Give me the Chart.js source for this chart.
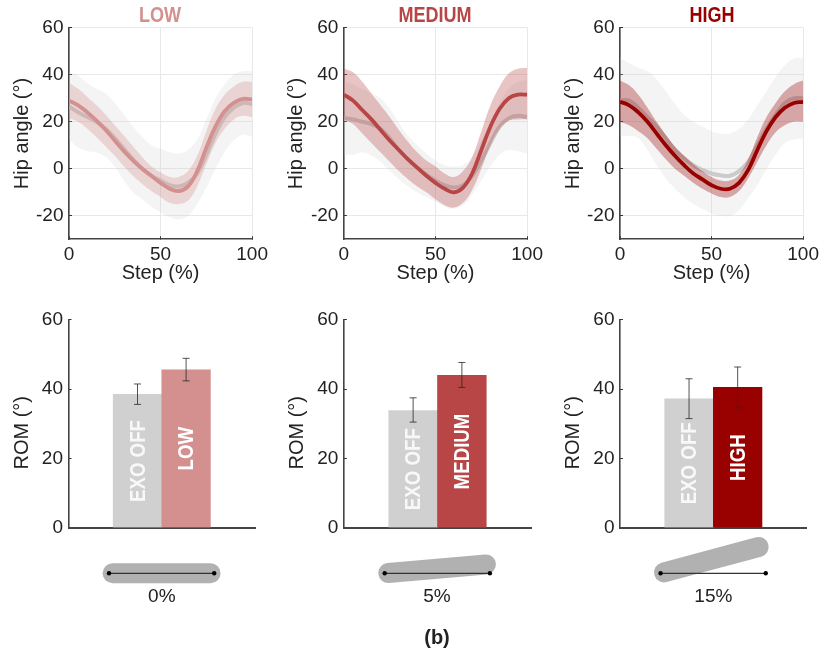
<!DOCTYPE html>
<html>
<head>
<meta charset="utf-8">
<script src="https://cdn.jsdelivr.net/npm/chart.js@4"></script>
<style>
    html, body { margin: 0; padding: 0; background: #fff; }
    body { position: relative; width: 836px; height: 656px; overflow: hidden; font-family: "Liberation Sans", Arial, sans-serif; color: #222; }
    canvas { position: absolute; display: block; }
    .txt { position: absolute; transform: translate(-50%, -50%); white-space: nowrap; }
    .panel-title { font: bold 22px "Liberation Sans", sans-serif; transform: translate(-50%, -50%) scaleX(0.82); }
    .incline { font-size: 19px; }
    .caption { font-size: 20px; font-weight: bold; }
</style>
</head>
<body>
<script>
// data
const stepPct = [0, 5, 10, 15, 20, 25, 30, 35, 40, 45, 50, 55, 60, 65, 70, 75, 80, 85, 90, 95, 100];
const hipTicks = [-20, 0, 20, 40, 60];
const stepTicks = [0, 50, 100];
const romTicks = [0, 20, 40, 60];

const levels = ['LOW', 'MEDIUM', 'HIGH'];
const inclines = [0, 5, 15];

// exo on
const lowMean = [29, 27, 24, 20.5, 16.5, 12, 7.5, 3.5, 0, -3, -6, -8.5, -9.5, -7.5, -1, 9, 18, 24.5, 28, 29.7, 29.5];
const lowUpper = [36.5, 34, 30.5, 27, 23, 18.5, 14, 9.5, 5, 1, -1.5, -3.5, -3.5, -1, 5.5, 16, 25.5, 31.5, 35, 37, 37];
const lowLower = [21.5, 20, 17, 13.5, 9.5, 5.5, 1, -3, -6.5, -9.5, -12, -14.5, -15, -13.5, -7.5, 2, 11, 17, 21, 22.5, 22];
const medMean = [31.5, 29, 25, 21, 16.5, 12, 8, 4, 0.5, -3, -6, -8.5, -10, -8, -2, 8, 18, 25.5, 30, 31.5, 31.5];
const medUpper = [42.5, 41, 37, 32, 27, 22, 16.5, 11.5, 7, 3.5, 1, -2, -3.5, -1, 5, 16, 27, 35, 40.5, 42.5, 43];
const medLower = [21, 19, 15, 11, 7, 3, -1, -4.5, -7.5, -10, -13, -15.5, -16.5, -14.5, -9, 0, 10, 17, 20.5, 21, 21];
const highMean = [28.5, 27, 24, 20, 15, 10, 5.5, 1.5, -2, -4.5, -7, -8.5, -8.5, -6, -0.5, 8, 16, 22, 26, 28, 28.5];
const highUpper = [37.5, 35.5, 31.5, 26, 20, 14.5, 9.5, 5.5, 2, -1, -3.5, -5, -5, -2.5, 4, 13.5, 22, 28, 33, 36, 37.5];
const highLower = [20, 18.5, 16, 13, 8.5, 4, 0, -3, -6, -8.5, -10.5, -12, -12, -9.5, -4, 3, 10, 15.5, 18.5, 20, 20];

// exo off
const lowOffMean = [26.5, 24, 22, 20, 17, 13, 8.5, 4, 0, -3, -5, -7, -7.5, -6, -2, 6, 15, 22, 26, 28, 27.5];
const lowOffUpper = [41, 39.5, 36.5, 34, 32, 28, 23, 18, 13.5, 10, 8.5, 7, 6.5, 8, 12.5, 21, 30, 36, 40, 41.5, 41.5];
const lowOffLower = [12.5, 9, 7.5, 7, 5, 1, -5, -10, -13, -16, -18.5, -20.5, -21.5, -20, -15, -8, 0, 7, 12, 14.5, 13.5];
const medOffMean = [21.5, 21, 20, 19, 17, 13, 8, 4, 0.5, -2.5, -5, -7, -8, -7, -3, 3.5, 11, 18, 21.5, 22.5, 22];
const medOffUpper = [37, 36, 34, 32, 30, 25.5, 19.5, 14, 10, 6.5, 3.5, 1.5, 1, 1.5, 5, 12, 20, 28, 34, 37, 38];
const medOffLower = [6, 6, 7, 5.5, 3, -1, -4.5, -7.5, -10, -12, -14, -16, -17, -15.5, -11, -5, 1, 6, 8, 7.5, 6.5];
const highOffMean = [29, 29, 26, 22, 18, 13, 8, 4.5, 1.5, -0.5, -2, -2.8, -3, -1, 3, 10, 17, 23, 28, 30, 30];
const highOffUpper = [47, 45, 43, 41.5, 38, 33, 27.5, 23, 20, 18, 16, 15, 15, 17, 21, 27, 33, 39, 44, 47, 47];
const highOffLower = [13.5, 14, 13, 8, 1.5, -4, -8.5, -12, -15, -17, -19, -20, -20, -17.5, -12.5, -7, 0, 6, 11, 12.5, 13];

// range of motion
const romOff = [38.5, 33.8, 37.2];
const romOn = [45.6, 44, 40.5];
const romOffHigh = [41.5, 37.5, 43];
const romOffLow = [35.6, 30.5, 31.5];
const romOnHigh = [48.9, 47.7, 46.4];
const romOnLow = [42.4, 40.5, 34.6];
const offLabel = 'EXO OFF';

const onCurves = [[lowMean, lowUpper, lowLower], [medMean, medUpper, medLower], [highMean, highUpper, highLower]];
const offCurves = [[lowOffMean, lowOffUpper, lowOffLower], [medOffMean, medOffUpper, medOffLower], [highOffMean, highOffUpper, highOffLower]];

// styles
const colors = ['#d48f8f', '#b94646', '#990000'];
const bandColors = ['rgba(212,143,143,0.33)', 'rgba(185,70,70,0.32)', 'rgba(153,0,0,0.32)'];
const offColor = '#d0d0d0';
const axisColor = '#444444';
const textColor = '#222222';
const sansFont = '"Liberation Sans", Arial, sans-serif';

// layout
const hipLeft = [69, 343.4, 620];
const hipWidth = [184.4, 185.5, 185.3];
const romLeft = [68.5, 343.4, 620];
const romWidth = [186.6, 187.2, 186.7];
const canvasLeft = [0, 274.5, 551];

function addText(cls, text, x, y, color) {
    const el = document.createElement('div');
    el.className = 'txt ' + cls;
    el.textContent = text;
    el.style.left = x + 'px';
    el.style.top = y + 'px';
    if (color) el.style.color = color;
    document.body.appendChild(el);
}

function addCanvas(left, top, width, height) {
    const c = document.createElement('canvas');
    c.width = width;
    c.height = height;
    c.style.left = left + 'px';
    c.style.top = top + 'px';
    c.style.width = width + 'px';
    c.style.height = height + 'px';
    document.body.appendChild(c);
    return c;
}

const toPoints = (values) => values.map((v, i) => ({ x: stepPct[i], y: v }));

// chart.js paints dataset 0 last, so the mean comes first and exo on comes before exo off
function bandDatasets(curves, lineColor, lineWidth, bandColor) {
    const base = { pointRadius: 0, tension: 0.4 };
    return [
        { ...base, data: toPoints(curves[0]), borderWidth: lineWidth, borderColor: lineColor, fill: false },
        { ...base, data: toPoints(curves[1]), borderWidth: 0, fill: '+1', backgroundColor: bandColor },
        { ...base, data: toPoints(curves[2]), borderWidth: 0, fill: false }
    ];
}

function axisBase(ticks, padding) {
    return {
        type: 'linear',
        afterBuildTicks: (scale) => { scale.ticks = ticks.map((v) => ({ value: v })); },
        border: { color: axisColor, width: 1.6 },
        ticks: { color: textColor, font: { family: sansFont, size: 19 }, padding: padding, maxRotation: 0, autoSkip: false }
    };
}

function hipChart(i) {
    const left = canvasLeft[i];
    const w = 275, h = 285;
    const canvas = addCanvas(left, 0, w, h);
    new Chart(canvas, {
        type: 'line',
        data: {
            datasets: [
                ...bandDatasets(onCurves[i], colors[i], 3.8, bandColors[i]),
                ...bandDatasets(offCurves[i], 'rgba(190,190,190,0.75)', 4, 'rgba(205,205,205,0.22)')
            ]
        },
        options: {
            responsive: false,
            animation: false,
            layout: { padding: { left: hipLeft[i] - left - 69, top: 27.7, right: w - (hipLeft[i] - left) - hipWidth[i], bottom: 0 } },
            plugins: { legend: { display: false }, tooltip: { enabled: false } },
            scales: {
                x: {
                    ...axisBase(stepTicks, 7),
                    min: 0,
                    max: 100,
                    afterFit: (scale) => { scale.height = 45.7; },
                    grid: { color: '#e8e8e8', tickColor: '#333333', tickLength: -3 },
                    title: { display: true, text: 'Step (%)', color: textColor, font: { family: sansFont, size: 20 }, padding: 0 }
                },
                y: {
                    ...axisBase(hipTicks, 8.5),
                    min: -30,
                    max: 60,
                    afterFit: (scale) => { scale.width = 69; },
                    grid: { color: '#e8e8e8', tickColor: '#333333', tickLength: -3 },
                    title: { display: true, text: 'Hip angle (°)', color: textColor, font: { family: sansFont, size: 20 }, padding: { top: 10, bottom: 0 } }
                }
            }
        }
    });
}

// error bars, labels inside the bars, the y title and the incline sketch under the axis
function romPlugin(i) {
    const errors = [[romOffLow[i], romOffHigh[i]], [romOnLow[i], romOnHigh[i]]];
    const labels = [offLabel, levels[i]];
    const labelColors = ['rgba(255,255,255,0.85)', '#ffffff'];
    return {
        id: 'romExtras',
        afterDatasetsDraw(chart) {
            const ctx = chart.ctx;
            const yScale = chart.scales.y;
            const area = chart.chartArea;
            const meta = chart.getDatasetMeta(0);
            meta.data.forEach((bar, k) => {
                const yLow = yScale.getPixelForValue(errors[k][0]);
                const yHigh = yScale.getPixelForValue(errors[k][1]);
                ctx.save();
                ctx.strokeStyle = 'rgba(40,40,40,0.8)';
                ctx.lineWidth = 1;
                ctx.beginPath();
                ctx.moveTo(bar.x, yLow); ctx.lineTo(bar.x, yHigh);
                ctx.moveTo(bar.x - 3.5, yLow); ctx.lineTo(bar.x + 3.5, yLow);
                ctx.moveTo(bar.x - 3.5, yHigh); ctx.lineTo(bar.x + 3.5, yHigh);
                ctx.stroke();
                ctx.restore();

                ctx.save();
                ctx.translate(bar.x, (bar.y + yScale.getPixelForValue(0)) / 2);
                ctx.rotate(-Math.PI / 2);
                ctx.scale(0.85, 1);
                ctx.fillStyle = labelColors[k];
                ctx.font = 'bold 22px ' + sansFont;
                ctx.textAlign = 'center';
                ctx.textBaseline = 'middle';
                ctx.fillText(labels[k], 0, 1);
                ctx.restore();
            });

            ctx.save();
            ctx.translate(area.left - 46.5, (area.top + area.bottom) / 2 + 9);
            ctx.rotate(-Math.PI / 2);
            ctx.fillStyle = textColor;
            ctx.font = '20px ' + sansFont;
            ctx.textAlign = 'center';
            ctx.textBaseline = 'middle';
            ctx.fillText('ROM (°)', 0, 0);
            ctx.restore();

            const cx = (area.left + area.right) / 2;
            const px = cx - 52.8, py = area.bottom + 45.6;
            const angle = inclines[i] * Math.PI / 180;
            const cos = Math.cos(angle), sin = Math.sin(angle);
            ctx.save();
            ctx.strokeStyle = '#b1b1b1';
            ctx.lineWidth = 20;
            ctx.lineCap = 'round';
            ctx.beginPath();
            ctx.moveTo(px + 3.6 * cos, py - 3.6 * sin);
            ctx.lineTo(px + 101.6 * cos, py - 101.6 * sin);
            ctx.stroke();
            ctx.strokeStyle = '#333333';
            ctx.lineWidth = 1.2;
            ctx.lineCap = 'butt';
            ctx.beginPath();
            ctx.moveTo(px, py); ctx.lineTo(px + 105.2, py);
            ctx.stroke();
            ctx.fillStyle = '#000000';
            [px, px + 105.2].forEach((x) => {
                ctx.beginPath();
                ctx.arc(x, py, 2.2, 0, Math.PI * 2);
                ctx.fill();
            });
            ctx.restore();
        }
    };
}

function romChart(i) {
    const left = canvasLeft[i];
    const w = 275, h = 300;
    const canvas = addCanvas(left, 300, w, h);
    new Chart(canvas, {
        type: 'bar',
        data: {
            datasets: [{
                data: [{ x: -0.5, y: romOff[i] }, { x: 0.5, y: romOn[i] }],
                backgroundColor: [offColor, colors[i]],
                borderWidth: 0,
                barThickness: romWidth[i] / 3.84
            }]
        },
        options: {
            responsive: false,
            animation: false,
            layout: { padding: { left: romLeft[i] - left - 69, top: 19, right: w - (romLeft[i] - left) - romWidth[i], bottom: 71.3 } },
            plugins: { legend: { display: false }, tooltip: { enabled: false } },
            scales: {
                x: {
                    type: 'linear',
                    offset: false,
                    min: -1.92,
                    max: 1.92,
                    afterFit: (scale) => { scale.height = 1; },
                    border: { color: axisColor, width: 2 },
                    grid: { display: false },
                    ticks: { display: false }
                },
                y: {
                    ...axisBase(romTicks, 8.5),
                    min: 0,
                    max: 60,
                    afterFit: (scale) => { scale.width = 69; },
                    grid: { display: true, drawOnChartArea: false, tickColor: '#333333', tickLength: -3 }
                }
            }
        },
        plugins: [romPlugin(i)]
    });
}

levels.forEach((name, i) => {
    hipChart(i);
    romChart(i);
    const center = romLeft[i] + romWidth[i] / 2;
    addText('panel-title', name, hipLeft[i] + hipWidth[i] / 2 - 1, 15, colors[i]);
    addText('incline', inclines[i] + '%', center, 596);
});
addText('caption', '(b)', 437, 637);
</script>
</body>
</html>
